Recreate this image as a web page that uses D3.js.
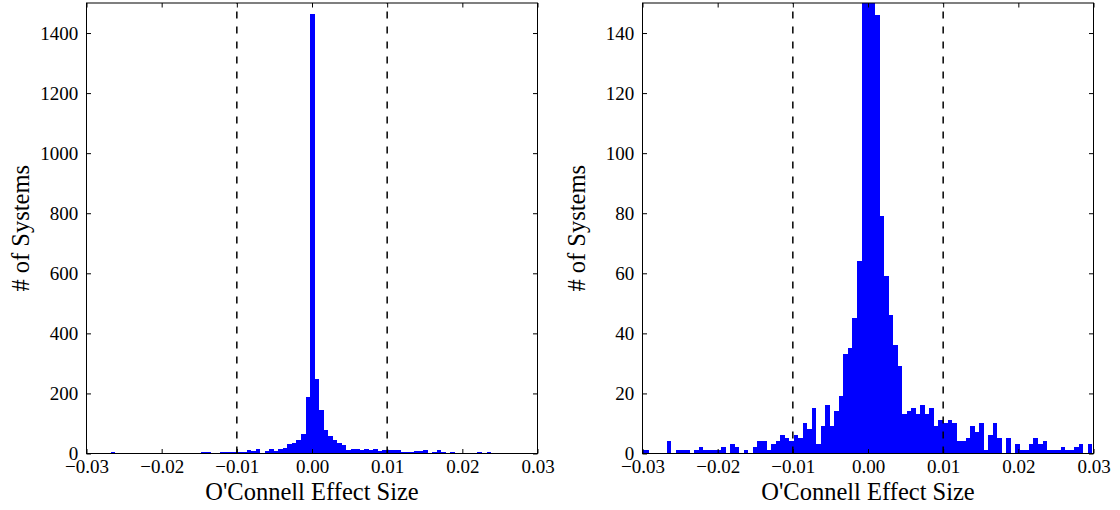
<!DOCTYPE html>
<html><head><meta charset="utf-8">
<script src="https://cdn.jsdelivr.net/npm/d3@7"></script>
<style>body{margin:0;background:#fff} svg{display:block}</style>
</head><body><svg id="c" width="1120" height="510"></svg>
<script>
// ---- data ----
const firstBinEdge = -0.030359;   // left edge of the first histogram bin
const binWidth = 0.000602;        // width of each histogram bin
const binCounts = [
  1, 1, 0, 0, 0, 0, 4, 0, 1, 1, 1, 0, 1, 2, 1, 1, 1, 1, 2, 0,
  3, 2, 0, 1, 0, 2, 4, 4, 1, 3, 4, 6, 5, 4, 6, 5, 10, 8, 15, 3,
  9, 16, 9, 14, 19, 33, 35, 45, 64, 189, 1465, 248, 146, 79, 59, 46, 36, 29, 13, 14,
  15, 13, 16, 13, 15, 9, 11, 10, 11, 10, 4, 4, 5, 9, 7, 10, 1, 6, 10, 5,
  0, 5, 0, 3, 1, 1, 3, 5, 3, 4, 1, 1, 1, 2, 1, 1, 2, 3, 0, 3, 0
];
const xDomain = [-0.03, 0.03];
const xTicks = [-0.03, -0.02, -0.01, 0.00, 0.01, 0.02, 0.03];
const cutLines = [-0.01, 0.01];
const yMaxLeft = 1500;
const yTicksLeft = [0, 200, 400, 600, 800, 1000, 1200, 1400];
const yMaxRight = 150;
const yTicksRight = [0, 20, 40, 60, 80, 100, 120, 140];
const xLabel = "O'Connell Effect Size";
const yLabel = "# of Systems";

// ---- layout ----
(function () {
const svg = d3.select("#c");
const FONT = "'Liberation Serif','Times New Roman',serif";
const plotW = 451, yTop = 3, yBot = 453.5;
const panels = [
  {x0: 86.5, yMax: yMaxLeft, yTicks: yTicksLeft, id: "L"},
  {x0: 642.5, yMax: yMaxRight, yTicks: yTicksRight, id: "R"}
];
const bins = binCounts.map((c, i) => ({x0: firstBinEdge + i * binWidth, x1: firstBinEdge + (i + 1) * binWidth, n: c}));

panels.forEach(p => {
  const x = d3.scaleLinear().domain(xDomain).range([p.x0, p.x0 + plotW]);
  const y = d3.scaleLinear().domain([0, p.yMax]).range([yBot, yTop]);

  svg.append("clipPath").attr("id", "clip" + p.id)
    .append("rect").attr("x", p.x0).attr("y", yTop).attr("width", plotW).attr("height", yBot - yTop);

  const g = svg.append("g").attr("clip-path", `url(#clip${p.id})`);
  g.selectAll("rect.bar").data(bins.filter(b => b.n > 0)).join("rect")
    .attr("class", "bar")
    .attr("x", d => x(d.x0))
    .attr("width", d => x(d.x1) - x(d.x0))
    .attr("y", d => y(d.n))
    .attr("height", d => y(0) - y(d.n))
    .attr("fill", "#0000ff")
    .attr("shape-rendering", "crispEdges");

  g.selectAll("line.cut").data(cutLines).join("line")
    .attr("class", "cut")
    .attr("x1", d => x(d)).attr("x2", d => x(d))
    .attr("y1", yBot).attr("y2", yTop)
    .attr("stroke", "#000").attr("stroke-width", 1.5)
    .attr("stroke-dasharray", "7,8");

  const fmtX = d3.format(".2f");
  const ax = (axis, tr) => {
    const a = svg.append("g").attr("transform", tr).call(axis);
    a.select(".domain").remove();
    a.selectAll("line").attr("stroke", "#000").attr("stroke-width", 1);
    a.selectAll("text").attr("fill", "#000").style("font-family", FONT).style("font-size", "19px");
    return a;
  };
  ax(d3.axisBottom(x).tickValues(xTicks).tickFormat(fmtX).tickSizeInner(-4.5).tickSizeOuter(0).tickPadding(6.3),
     `translate(0,${yBot})`);
  ax(d3.axisTop(x).tickValues(xTicks).tickFormat("").tickSizeInner(-4.5).tickSizeOuter(0), `translate(0,${yTop})`);
  ax(d3.axisLeft(y).tickValues(p.yTicks).tickFormat(d3.format("d")).tickSizeInner(-4.5).tickSizeOuter(0).tickPadding(8.2),
     `translate(${p.x0},0)`);
  ax(d3.axisRight(y).tickValues(p.yTicks).tickFormat("").tickSizeInner(-4.5).tickSizeOuter(0), `translate(${p.x0 + plotW},0)`);

  svg.append("rect").attr("x", p.x0).attr("y", yTop).attr("width", plotW).attr("height", yBot - yTop)
    .attr("fill", "none").attr("stroke", "#000").attr("stroke-width", 1);

  svg.append("text").attr("x", p.x0 + plotW / 2).attr("y", 500)
    .attr("text-anchor", "middle").style("font-family", FONT).style("font-size", "24.5px")
    .text(xLabel);
  svg.append("text").attr("transform", `translate(${p.x0 - 57.5},${(yTop + yBot) / 2}) rotate(-90)`)
    .attr("text-anchor", "middle").style("font-family", FONT).style("font-size", "24.5px")
    .text(yLabel);
});
})();
</script></body></html>
